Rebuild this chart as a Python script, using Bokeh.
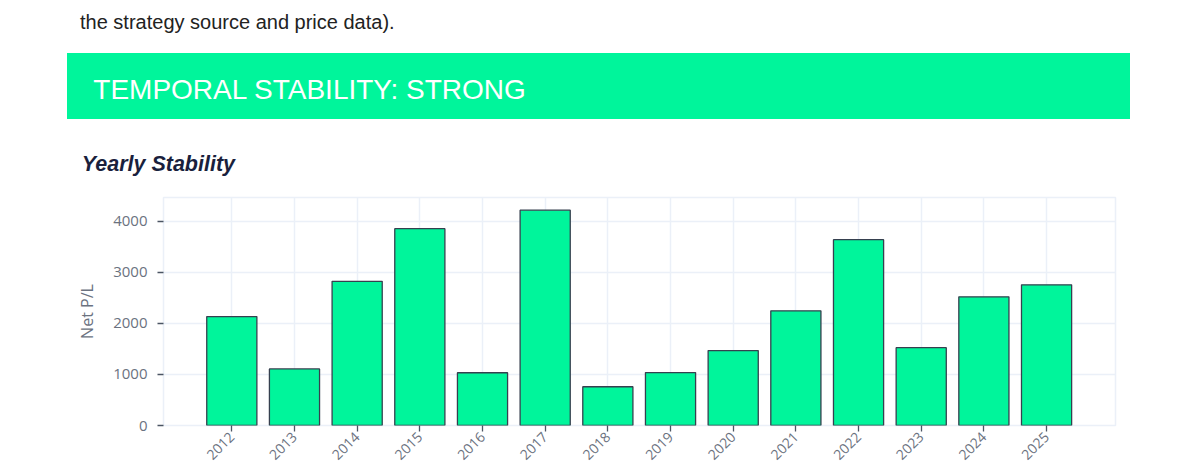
import math
from bokeh.plotting import figure
from bokeh.layouts import column
from bokeh.models import Range1d, FixedTicker, Div
from bokeh.embed import file_html
from bokeh.resources import INLINE

# ---- data ----
years = [2012, 2013, 2014, 2015, 2016, 2017, 2018, 2019, 2020, 2021, 2022, 2023, 2024, 2025]
net_pl = [2130, 1107, 2820, 3851, 1032, 4213, 758, 1035, 1466, 2243, 3635, 1522, 2517, 2752]
y_ticks = [0, 1000, 2000, 3000, 4000]
year_labels = [str(y) for y in years]

GREEN = "#00F59B"
GRID = "#EBF0F8"
GRAY = "#6b7280"
W = 1190
HEAD_H = 189

# ---- page header (HTML text above the chart) ----
FONT = "'Liberation Sans', Arial, sans-serif"
header_html = f"""
<div style="position:relative;width:{W}px;height:{HEAD_H}px;font-family:{FONT};margin:0;padding:0;">
  <div style="position:absolute;left:80px;top:11.5px;font-size:20px;line-height:20px;color:#222222;white-space:nowrap;">the strategy source and price data).</div>
  <div style="position:absolute;left:66.7px;top:52.7px;width:1063.3px;height:66.6px;background:{GREEN};"></div>
  <div style="position:absolute;left:93.3px;top:75.8px;font-size:28px;line-height:28px;color:#ffffff;white-space:nowrap;">TEMPORAL STABILITY: STRONG</div>
  <div style="position:absolute;left:81.7px;top:154px;font-size:21.5px;line-height:21.5px;color:#1a1f3d;font-weight:bold;font-style:italic;white-space:nowrap;">Yearly Stability</div>
</div>
"""
head = Div(text=header_html, width=W, height=HEAD_H, margin=(0, 0, 0, 0))

# ---- chart ----
FRAME_LEFT = 163
p = figure(frame_width=952, frame_height=228,
           output_backend="svg", toolbar_location=None,
           x_range=Range1d(2010.91, 2026.1), y_range=Range1d(0, 4460),
           min_border_left=FRAME_LEFT, min_border_right=75, min_border_top=8,
           min_border_bottom=0,
           background_fill_color="white", border_fill_color="white")

p.vbar(x=years, top=net_pl, bottom=0, width=0.8, fill_color=GREEN,
       line_color="#36404f", line_width=1.3)

p.outline_line_color = GRID
p.outline_line_width = 1.5
p.xgrid.grid_line_color = GRID
p.ygrid.grid_line_color = GRID
p.xgrid.grid_line_width = 1.5
p.ygrid.grid_line_width = 1.5

p.xaxis.ticker = FixedTicker(ticks=years)
p.xaxis.major_label_overrides = {y: s for y, s in zip(years, year_labels)}
p.yaxis.ticker = FixedTicker(ticks=y_ticks)
for ax in (p.xaxis[0], p.yaxis[0]):
    ax.axis_line_color = None
    ax.major_tick_in = 0
    ax.major_tick_out = 6
    ax.minor_tick_out = 0
    ax.minor_tick_in = 0
    ax.major_tick_line_color = "#4b5563"
    ax.major_tick_line_width = 1.3
    ax.major_label_text_color = GRAY
    ax.major_label_text_font = "Open Sans"
    ax.major_label_text_font_size = "15px"

p.xaxis.major_label_orientation = math.pi / 4
p.xaxis.major_label_standoff = 3
p.xaxis.major_label_text_font_size = "14px"
p.yaxis.major_label_standoff = 10
p.yaxis.axis_label = "Net P/L"
p.yaxis.axis_label_text_font = "Open Sans"
p.yaxis.axis_label_text_font_style = "normal"
p.yaxis.axis_label_text_font_size = "16px"
p.yaxis.axis_label_text_color = GRAY
p.yaxis.axis_label_standoff = 12

layout = column(head, p, spacing=0)
open("out.html", "w").write(file_html(layout, INLINE))
